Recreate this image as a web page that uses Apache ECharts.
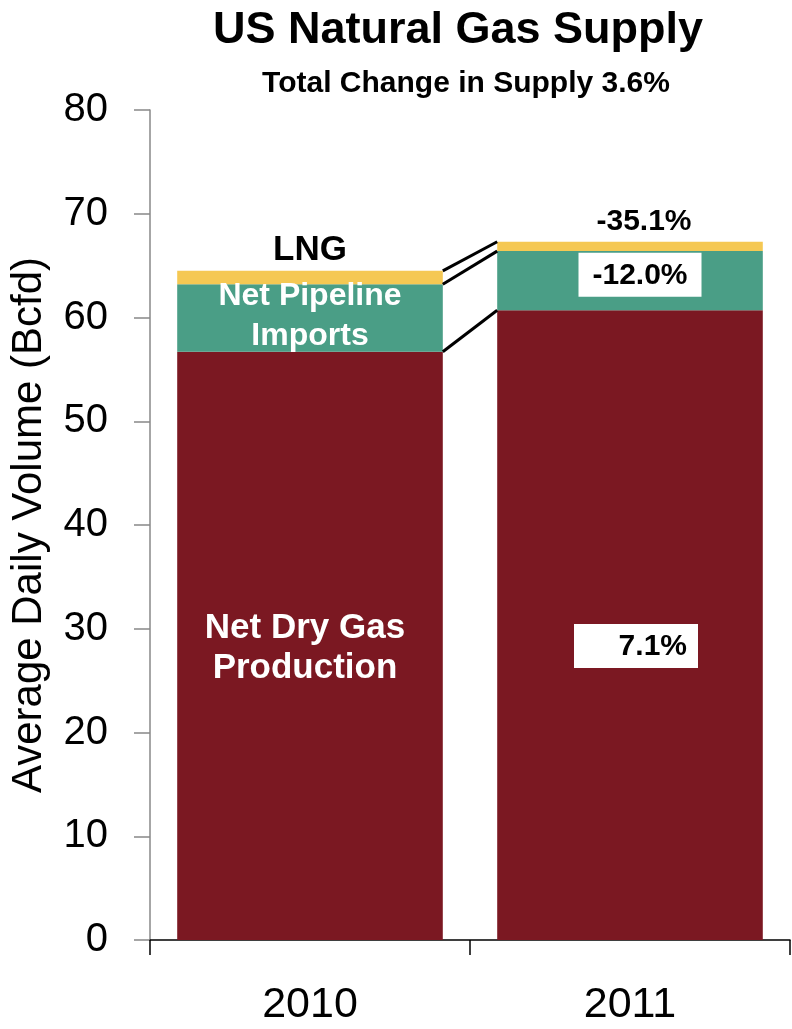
<!DOCTYPE html>
<html>
<head>
<meta charset="utf-8">
<script src="https://cdn.jsdelivr.net/npm/echarts@6/dist/echarts.min.js"></script>
<style>
  html, body { margin: 0; padding: 0; background: #fff; }
  #main { width: 792px; height: 1029px; }
</style>
</head>
<body>
<div id="main"></div>
<script>
// data (Bcfd)
var years = ['2010', '2011'];
var production = [56.7, 60.7];
var pipeline = [6.5, 5.7];
var lng = [1.3, 0.9];
var yTicks = [0, 80, 10];
var changes = ['7.1%', '-12.0%', '-35.1%'];

var FONT = 'Liberation Sans';
var GAP = 0.17;

// stack tops, for the connector lines between the bars
var redTop = [], greenTop = [], yellowTop = [];
for (var i = 0; i < years.length; i++) {
    redTop.push(production[i]);
    greenTop.push(production[i] + pipeline[i]);
    yellowTop.push(production[i] + pipeline[i] + lng[i]);
}
var links = [
    [0, redTop[0], redTop[1]],
    [0, greenTop[0], greenTop[1]],
    [0, yellowTop[0], yellowTop[1]]
];

var myChart = echarts.init(document.getElementById('main'));

var option = {
    animation: false,
    title: [
        {
            text: 'US Natural Gas Supply',
            left: 453, top: 3, textAlign: 'center',
            textStyle: { fontFamily: FONT, fontSize: 45, fontWeight: 'bold', color: '#000' }
        },
        {
            text: 'Total Change in Supply 3.6%',
            left: 461, top: 64, textAlign: 'center',
            textStyle: { fontFamily: FONT, fontSize: 30, fontWeight: 'bold', color: '#000' }
        }
    ],
    grid: { left: 148, right: 2, top: 110, bottom: 89 },
    xAxis: {
        type: 'category',
        data: years,
        axisLine: { lineStyle: { color: '#000', width: 1.5 } },
        axisTick: { show: true, length: 15, lineStyle: { color: '#000', width: 1.5 } },
        axisLabel: { fontFamily: FONT, fontSize: 43, color: '#000', margin: 44 }
    },
    yAxis: {
        type: 'value',
        min: yTicks[0], max: yTicks[1], interval: yTicks[2],
        name: 'Average Daily Volume (Bcfd)',
        nameLocation: 'middle',
        nameGap: 100,
        nameTextStyle: { fontFamily: FONT, fontSize: 42, color: '#000' },
        splitLine: { show: false },
        axisLine: { show: true, lineStyle: { color: '#888', width: 1.5 } },
        axisTick: { show: true, length: 16, lineStyle: { color: '#888', width: 1.5 } },
        axisLabel: { fontFamily: FONT, fontSize: 40, color: '#000', margin: 42 }
    },
    series: [
        {
            name: 'Net Dry Gas Production',
            type: 'bar',
            stack: 'supply',
            barCategoryGap: (GAP * 100) + '%',
            itemStyle: { color: '#7B1822' },
            data: [
                {
                    value: production[0],
                    label: {
                        show: true, position: 'inside', offset: [-5, 2],
                        formatter: 'Net Dry Gas\nProduction',
                        color: '#fff', fontFamily: FONT, fontSize: 35, fontWeight: 'bold', lineHeight: 40
                    }
                },
                {
                    value: production[1],
                    label: {
                        show: true, position: 'inside', offset: [6, 21],
                        formatter: '{a|' + changes[0] + '}',
                        rich: {
                            a: {
                                backgroundColor: '#fff', color: '#000', fontFamily: FONT,
                                fontSize: 30, fontWeight: 'bold', width: 96, align: 'right',
                                padding: [8, 11, 6, 17]
                            }
                        }
                    }
                }
            ]
        },
        {
            name: 'Net Pipeline Imports',
            type: 'bar',
            stack: 'supply',
            itemStyle: { color: '#4A9E86' },
            data: [
                {
                    value: pipeline[0],
                    label: {
                        show: true, position: 'inside', offset: [0, -2],
                        formatter: 'Net Pipeline\nImports',
                        color: '#fff', fontFamily: FONT, fontSize: 32, fontWeight: 'bold', lineHeight: 40
                    }
                },
                {
                    value: pipeline[1],
                    label: {
                        show: true, position: 'inside', offset: [10, -6],
                        formatter: '{a|' + changes[1] + '}',
                        rich: {
                            a: {
                                backgroundColor: '#fff', color: '#000', fontFamily: FONT,
                                fontSize: 30, fontWeight: 'bold', width: 95, align: 'center',
                                padding: [8, 14, 6, 14]
                            }
                        }
                    }
                }
            ]
        },
        {
            name: 'LNG',
            type: 'bar',
            stack: 'supply',
            itemStyle: { color: '#F5C853' },
            data: [
                {
                    value: lng[0],
                    label: {
                        show: true, position: 'top', distance: 3,
                        formatter: 'LNG',
                        color: '#000', fontFamily: FONT, fontSize: 35, fontWeight: 'bold'
                    }
                },
                {
                    value: lng[1],
                    label: {
                        show: true, position: 'top', distance: 5, offset: [14, 0],
                        formatter: changes[2],
                        color: '#000', fontFamily: FONT, fontSize: 30, fontWeight: 'bold'
                    }
                }
            ]
        },
        {
            // connector lines from 2010 bar to 2011 bar
            type: 'custom',
            data: links,
            encode: { x: 0, y: [1, 2] },
            renderItem: function (params, api) {
                var p0 = api.coord([0, api.value(1)]);
                var p1 = api.coord([1, api.value(2)]);
                var bw = api.size([1, 0])[0] * (1 - GAP);
                return {
                    type: 'line',
                    shape: { x1: p0[0] + bw / 2, y1: p0[1], x2: p1[0] - bw / 2, y2: p1[1] },
                    style: { stroke: '#000', lineWidth: 3 }
                };
            },
            z: 5
        }
    ]
};

myChart.setOption(option);
</script>
</body>
</html>
